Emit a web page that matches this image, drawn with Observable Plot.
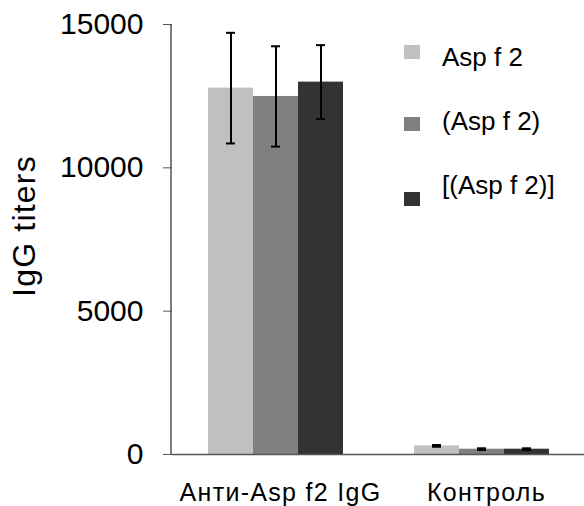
<!DOCTYPE html>
<html>
<head>
<meta charset="utf-8">
<script src="https://cdn.jsdelivr.net/npm/d3@7"></script>
<script src="https://cdn.jsdelivr.net/npm/@observablehq/plot@0.6"></script>
<style>
  html, body { margin: 0; padding: 0; background: #fff; }
  #wrap { position: relative; width: 584px; height: 506px; font-family: "Liberation Sans", Arial, sans-serif; color: #000; }
  #ylabel { position: absolute; left: 24px; top: 226px; transform: translate(-50%, -50%) rotate(-90deg); font-size: 32px; letter-spacing: 1.2px; white-space: nowrap; }
  .lg-sq { position: absolute; left: 404px; width: 16px; height: 14px; }
  .lg-tx { position: absolute; left: 442px; font-size: 26px; line-height: 26px; white-space: nowrap; }
</style>
</head>
<body>
<div id="wrap"></div>
<script>
const groups = ["Анти-Asp f2 IgG", "Контроль"];
const series = ["Asp f 2", "(Asp f 2)", "[(Asp f 2)]"];
const antiMeans = [12780, 12490, 12990];
const antiErrors = [1930, 1750, 1290];
const controlMeans = [300, 185, 185];
const controlErrors = [30, 30, 30];
const colors = ["#c0c0c0", "#808080", "#333333"];
const yTicks = [0, 5000, 10000, 15000];
const yLabel = "IgG titers";

const rows = [];
series.forEach((s, i) => {
  rows.push({group: groups[0], series: s, mean: antiMeans[i], lo: antiMeans[i] - antiErrors[i], hi: antiMeans[i] + antiErrors[i]});
  rows.push({group: groups[1], series: s, mean: controlMeans[i], lo: controlMeans[i] - controlErrors[i], hi: controlMeans[i] + controlErrors[i]});
});

const chart = Plot.plot({
  width: 584,
  height: 506,
  marginLeft: 171,
  marginRight: 0,
  marginTop: 24,
  marginBottom: 52,
  style: {fontFamily: "'Liberation Sans', Arial, sans-serif", background: "#fff", color: "#000"},
  fx: {domain: groups, padding: 0, label: null},
  x: {domain: series, paddingInner: 0, paddingOuter: 0.745, axis: null},
  y: {domain: [0, 15000]},
  color: {domain: series, range: colors},
  marks: [
    Plot.barY(rows, {fx: "group", x: "series", y: "mean", fill: "series"}),
    Plot.ruleX(rows, {fx: "group", x: "series", y1: "lo", y2: "hi", stroke: "#000", strokeWidth: 2}),
    Plot.tickY(rows, {fx: "group", x: "series", y: "hi", stroke: "#000", strokeWidth: 2, insetLeft: 18, insetRight: 18}),
    Plot.tickY(rows, {fx: "group", x: "series", y: "lo", stroke: "#000", strokeWidth: 2, insetLeft: 18, insetRight: 18}),
    Plot.ruleY([0], {stroke: "#555", strokeWidth: 1.5}),
    Plot.axisY({ticks: yTicks, tickFormat: d3.format("d"), tickSize: 9, tickPadding: 20, fontSize: 30, label: null, stroke: "#555"}),
    Plot.axisFx({anchor: "bottom", tickSize: 0, tickPadding: 29, fontSize: 25, label: null, dx: 5})
  ]
});

const wrap = document.getElementById("wrap");
wrap.appendChild(chart);
d3.select(chart).selectAll("[aria-label='fx-axis tick label'] text, [aria-label='fx-axis tick label']").style("letter-spacing", "1.3px");

// y-axis domain line, placed from the plot's own scales
const fxScale = chart.scale("fx");
const yScale = chart.scale("y");
d3.select(chart).append("line")
  .attr("x1", fxScale.range[0]).attr("x2", fxScale.range[0])
  .attr("y1", yScale.range[0]).attr("y2", yScale.range[1])
  .attr("stroke", "#555").attr("stroke-width", 1.5);

const yl = document.createElement("div");
yl.id = "ylabel";
yl.textContent = yLabel;
wrap.appendChild(yl);

const sqTops = [45, 117, 192];
const txTops = [44, 108, 172];
series.forEach((s, i) => {
  const sq = document.createElement("div");
  sq.className = "lg-sq";
  sq.style.top = sqTops[i] + "px";
  sq.style.background = colors[i];
  wrap.appendChild(sq);
  const tx = document.createElement("div");
  tx.className = "lg-tx";
  tx.style.top = txTops[i] + "px";
  tx.textContent = s;
  wrap.appendChild(tx);
});
</script>
</body>
</html>
